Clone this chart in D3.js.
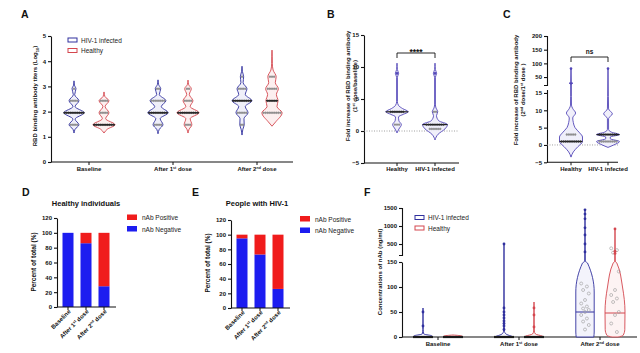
<!DOCTYPE html>
<html>
<head>
<meta charset="utf-8">
<script src="https://cdn.jsdelivr.net/npm/d3@7"></script>
<style>
  body { margin: 0; background: #fff; }
  svg { display: block; font-family: "Liberation Sans", Arial, sans-serif; }
</style>
</head>
<body>
<svg id="fig" width="640" height="353"></svg>
<script>
// ---------- data ----------
const doses = ["Baseline", "After 1st dose", "After 2nd dose"];
const cohorts = ["HIV-1 infected", "Healthy"];
const foldGroups = ["Healthy", "HIV-1 infected"];

// A: log10 RBD titers, violin profiles as [value, relative density]
const titerHIV = [
  [[1.15,0],[1.3,0.1],[1.477,0.45],[1.7,0.1],[1.954,0.92],[2.2,0.1],[2.431,0.45],[2.67,0.06],[2.908,0.18],[3.05,0.04],[3.22,0]],
  [[1.12,0],[1.3,0.12],[1.477,0.45],[1.72,0.2],[1.954,0.92],[2.2,0.3],[2.431,0.72],[2.68,0.12],[2.908,0.25],[3.08,0.05],[3.26,0]],
  [[1.07,0],[1.3,0.08],[1.477,0.2],[1.72,0.18],[1.954,0.55],[2.2,0.3],[2.431,0.9],[2.68,0.3],[2.908,0.45],[3.15,0.1],[3.386,0.15],[3.6,0.03],[3.8,0]]
];
const titerHealthy = [
  [[1.15,0],[1.3,0.3],[1.477,1.0],[1.72,0.15],[1.954,0.45],[2.2,0.1],[2.431,0.45],[2.6,0.08],[2.78,0]],
  [[1.15,0],[1.3,0.1],[1.477,0.35],[1.72,0.2],[1.954,1.0],[2.2,0.2],[2.431,0.45],[2.68,0.12],[2.908,0.3],[3.08,0.05],[3.25,0]],
  [[1.42,0],[1.6,0.35],[1.954,0.92],[2.2,0.45],[2.431,0.55],[2.68,0.4],[2.908,0.58],[3.15,0.3],[3.386,0.38],[3.65,0.1],[3.9,0.03],[4.2,0.02],[4.44,0]]
];
const titerMedHIV = [1.954, 1.954, 2.431];
const titerMedHealthy = [1.477, 1.954, 2.431];
// rows of points: [value, count]
const titerDotsHIV = [
  [[1.477,4],[1.954,10],[2.431,4],[2.908,1]],
  [[1.477,4],[1.954,9],[2.431,7],[2.908,2]],
  [[1.477,2],[1.954,5],[2.431,9],[2.908,4],[3.386,1]]
];
const titerDotsHealthy = [
  [[1.477,10],[1.954,4],[2.431,4]],
  [[1.477,3],[1.954,10],[2.431,4],[2.908,2]],
  [[1.954,9],[2.431,5],[2.908,5],[3.386,3]]
];

// B: fold increase 1st dose / baseline
const foldB = [
  [[-0.3,0],[0.3,0.15],[1,0.35],[1.6,0.15],[2.2,0.12],[2.6,0.5],[3,0.9],[3.5,0.45],[4,0.12],[4.6,0.03],[8.4,0.03],[9,0.13],[9.6,0.03],[10.6,0]],
  [[-1.4,0],[-0.5,0.25],[0.33,0.8],[1,1.0],[1.6,0.3],[2.4,0.12],[3,0.22],[3.6,0.08],[4.2,0.03],[8.4,0.03],[9,0.13],[9.6,0.03],[10.6,0]]
];
const foldMedB = [3, 1];
const foldDotsB = [ [[3,7],[1,3]], [[3,2],[1,9],[0.33,6]] ];
const foldPtsB = [[9], [9]];

// C: fold increase 2nd dose / 1st dose
const foldC = [
  [[-3.5,0],[-2,0.2],[-0.5,0.6],[1,1.0],[2.3,1.0],[3.5,0.75],[5,0.35],[6.5,0.2],[7.8,0.15],[9.2,0.4],[10.5,0.15],[11.5,0.04],[14,0.03],[24,0.03],[27,0.15],[32,0.03],[81,0]],
  [[-0.7,0],[0,0.5],[1,1.0],[1.8,0.2],[2.3,0.2],[3,1.0],[3.7,0.3],[4.5,0.05],[7.6,0.05],[9,0.38],[10.4,0.05],[14,0.03],[81,0]]
];
const foldMedC = [1, 3];
const foldDotsC = [ [[3,5],[1,10]], [[3,9],[1,9]] ];
const foldPtsC = [[81, 27], [81]];

// D / E: nAb positivity (%)
const healthyNeg = [100, 86, 28];
const healthyPos = [0, 14, 72];
const hivNeg = [95, 73, 26];
const hivPos = [5, 27, 74];

// F: nAb concentrations (ng/ml)
const nabHIV = [
  [[0,1.0],[3,0.8],[6,0.08],[15,0.02],[58,0]],
  [[0,1.0],[2,0.7],[6,0.2],[12,0.04],[30,0.02],[500,0]],
  [[0,0.88],[10,0.92],[90,0.92],[148,0.25],[155,0.03],[1450,0]]
];
const nabHealthy = [
  [[0,1.0],[2,0.9],[4,0]],
  [[0,1.0],[2,0.8],[6,0.15],[12,0.03],[70,0]],
  [[0,0.3],[3,0.8],[15,0.98],[50,1.0],[100,0.75],[148,0.18],[155,0.03],[920,0]]
];
const nabMedHIV = [0, 0, 50];
const nabMedHealthy = [0, 0, 48];
const nabPtsHIV = [[50,22],[500,58,50,44,38,32,27,22,15],[1450,1330,1200,950,750,500,280]];
const nabPtsHealthy = [[],[58,44,20],[920,300,240]];
const nabOpenHIV = [[],[],[107,101,94,87,74,67,61,57,54,50,44,37,31,24,15]];
const nabOpenHealthy = [[],[],[380,330,260,131,94,84,77,70,50,44,27,10]];

// ---------- helpers ----------
const svg = d3.select("#fig");
const BLUE = "#30309e", RED = "#d4464e", PURPLE = "#5246b8";
const BAR_BLUE = "#1d1df0", BAR_RED = "#f01c1c";
const INK = "#111";
const fmt = d3.format("d");

function styleAxis(g) {
  g.attr("font-family", null).attr("font-size", null);
  g.selectAll("text").attr("font-size", 6).attr("font-weight", "bold").attr("fill", INK);
  g.selectAll("path.domain, line").attr("stroke", INK).attr("stroke-width", 1.1);
}

// text with 1st / 2nd superscript
function rich(sel, str, size) {
  const m = str.match(/^(.*?)(\d)(st|nd)(.*)$/);
  if (!m) { sel.text(str); return; }
  sel.append("tspan").text(m[1] + m[2]);
  sel.append("tspan").attr("font-size", size * 0.6).attr("dy", -size * 0.4).text(m[3]);
  const rest = m[4];
  const t = sel.append("tspan").attr("font-size", size).attr("dy", size * 0.4);
  const m2 = rest.match(/^(.*?)(\d)(st|nd)(.*)$/);
  if (!m2) { t.text(rest); return; }
  t.text(m2[1] + m2[2]);
  sel.append("tspan").attr("font-size", size * 0.6).attr("dy", -size * 0.4).text(m2[3]);
  sel.append("tspan").attr("font-size", size).attr("dy", size * 0.4).text(m2[4]);
}

function yLabel(x, y, lines, size) {
  lines.forEach((ln, i) => {
    const t = svg.append("text")
      .attr("transform", `translate(${x + i * (size + 1)},${y}) rotate(-90)`)
      .attr("text-anchor", "middle").attr("font-size", size)
      .attr("font-weight", "bold").attr("fill", INK);
    if (typeof ln === "function") ln(t); else rich(t, ln, size);
  });
}

function panelLetter(x, y, s) {
  svg.append("text").attr("x", x).attr("y", y).attr("font-size", 10.5)
    .attr("font-weight", "bold").attr("fill", INK).text(s);
}

function violin(y, cx, prof, wMax, stroke, fill) {
  const w = d3.scaleLinear().domain([0, 1]).range([0, wMax]);
  const area = d3.area()
    .y(d => y(d[0]))
    .x0(d => cx - w(d[1]))
    .x1(d => cx + w(d[1]))
    .curve(d3.curveMonotoneY);
  svg.append("path").datum(prof).attr("d", area)
    .attr("fill", fill).attr("stroke", stroke)
    .attr("stroke-width", 0.9).attr("stroke-linejoin", "round");
  const dens = d3.scaleLinear().domain(prof.map(d => d[0])).range(prof.map(d => d[1])).clamp(true);
  return v => w(dens(v));
}

function dotRows(y, cx, rows, med) {
  rows.forEach(([v, n]) => {
    const isMed = Math.abs(v - med) < 1e-6;
    d3.range(n).forEach(i => {
      svg.append("circle")
        .attr("cx", cx + (i - (n - 1) / 2) * 2.1).attr("cy", y(v)).attr("r", 0.95)
        .attr("fill", isMed ? "#333" : "#9a9a9a").attr("stroke", isMed ? "#111" : "#5a5a5a")
        .attr("stroke-width", 0.3);
    });
  });
}

function medLine(y, cx, halfW, v, color, width) {
  svg.append("line").attr("x1", cx - halfW(v)).attr("x2", cx + halfW(v))
    .attr("y1", y(v)).attr("y2", y(v)).attr("stroke", color).attr("stroke-width", width);
}

function xBaseAxis(x0, x1, y, ticks) {
  svg.append("line").attr("x1", x0).attr("x2", x1).attr("y1", y).attr("y2", y)
    .attr("stroke", INK).attr("stroke-width", 1.1);
  ticks.forEach(t => svg.append("line").attr("x1", t).attr("x2", t).attr("y1", y).attr("y2", y + 3)
    .attr("stroke", INK).attr("stroke-width", 1));
}

function legendOutline(x, y, items) {
  items.forEach((it, i) => {
    svg.append("rect").attr("x", x).attr("y", y + i * 10.5 - 4).attr("width", 9).attr("height", 4)
      .attr("fill", "none").attr("stroke", it.color).attr("stroke-width", 1);
    svg.append("text").attr("x", x + 13).attr("y", y + i * 10.5 + 0.5).attr("font-size", 6.5)
      .attr("fill", "#222").text(it.name);
  });
}

function legendFilled(x, y, items) {
  items.forEach((it, i) => {
    svg.append("rect").attr("x", x).attr("y", y + i * 11.5 - 5).attr("width", 10).attr("height", 5.5)
      .attr("fill", it.color);
    svg.append("text").attr("x", x + 15).attr("y", y + i * 11.5 + 0.5).attr("font-size", 6.5)
      .attr("fill", "#222").text(it.name);
  });
}

function leftAxis(x, scale, ticks, outer) {
  svg.append("g").attr("transform", `translate(${x},0)`)
    .call(d3.axisLeft(scale).tickValues(ticks).tickFormat(fmt)
      .tickSize(3).tickSizeOuter(outer).tickPadding(2))
    .call(styleAxis);
}

// ---------- Panel A ----------
panelLetter(21, 18, "A");
const yA = d3.scaleLinear().domain([0, 5]).range([162, 36]);
const xA = d3.scalePoint().domain(doses).range([89, 257]);
const offA = d3.scalePoint().domain(cohorts).range([-15, 15]);
leftAxis(51, yA, [0,1,2,3,4,5], 0);
xBaseAxis(51, 293, 162, doses.map(d => xA(d)));
doses.forEach((d, i) => {
  [[cohorts[0], titerHIV, titerMedHIV, titerDotsHIV, BLUE, "#efeff9"],
   [cohorts[1], titerHealthy, titerMedHealthy, titerDotsHealthy, RED, "#fcefef"]]
  .forEach(([c, prof, med, dots, col, fill]) => {
    const cx = xA(d) + offA(c);
    const hw = violin(yA, cx, prof[i], 11, col, fill);
    medLine(yA, cx, hw, med[i], "#222", 1.2);
    dotRows(yA, cx, dots[i], med[i]);
  });
  const t = svg.append("text").attr("x", xA(d)).attr("y", 171).attr("text-anchor", "middle")
    .attr("font-size", 6).attr("font-weight", "bold").attr("fill", INK);
  rich(t, d, 6);
});
yLabel(37, 96, [t => {
  t.append("tspan").text("RBD binding antibody titers (Log");
  t.append("tspan").attr("font-size", 4).attr("dy", 1.5).text("10");
  t.append("tspan").attr("dy", -1.5).text(")");
}], 6);
legendOutline(68, 42, [{ name: cohorts[0], color: BLUE }, { name: cohorts[1], color: RED }]);

// ---------- Panel B ----------
panelLetter(327, 18, "B");
const yB = d3.scaleLinear().domain([-5, 15]).range([163, 35]);
const xB = d3.scalePoint().domain(foldGroups).range([397, 435]);
leftAxis(364, yB, [-5,0,5,10,15], 0);
xBaseAxis(364, 459, 163, foldGroups.map(g => xB(g)));
svg.append("line").attr("x1", 364).attr("x2", 459).attr("y1", yB(0)).attr("y2", yB(0))
  .attr("stroke", "#888").attr("stroke-width", 0.8).attr("stroke-dasharray", "1,1.5");
foldGroups.forEach((g, i) => {
  const cx = xB(g);
  const hw = violin(yB, cx, foldB[i], 12.5, PURPLE, "#f0effa");
  medLine(yB, cx, hw, foldMedB[i], "#222", 1.2);
  dotRows(yB, cx, foldDotsB[i], foldMedB[i]);
  foldPtsB[i].forEach(v => svg.append("circle").attr("cx", cx).attr("cy", yB(v)).attr("r", 1.3).attr("fill", PURPLE));
  svg.append("text").attr("x", cx).attr("y", 171).attr("text-anchor", "middle")
    .attr("font-size", 6).attr("font-weight", "bold").attr("fill", INK).text(g);
});
svg.append("path").attr("d", `M${xB(foldGroups[0])},58V53H${xB(foldGroups[1])}V58`)
  .attr("fill", "none").attr("stroke", INK).attr("stroke-width", 0.9);
svg.append("text").attr("x", 416).attr("y", 55).attr("text-anchor", "middle")
  .attr("font-size", 8.5).attr("font-weight", "bold").attr("fill", INK).text("****");
yLabel(350, 86, ["Fold increase of RBD binding antibody", "(1st dose/baseline)"], 6);

// ---------- Panel C ----------
panelLetter(503, 18, "C");
const yClow = d3.scaleLinear().domain([-5, 16]).range([162.3, 89.5]);
const yCup = d3.scaleLinear().domain([21, 200]).range([85, 36]);
const yC = d3.scaleLinear().domain([-5, 16, 21, 200]).range([162.3, 89.5, 85, 36]);
const xC = d3.scalePoint().domain(foldGroups).range([571, 608]);
leftAxis(547, yClow, [-5,0,5,10,15], 0);
leftAxis(547, yCup, [50,100,150,200], 3);
xBaseAxis(547, 618, 162.3, foldGroups.map(g => xC(g)));
svg.append("line").attr("x1", 547).attr("x2", 618).attr("y1", yC(0)).attr("y2", yC(0))
  .attr("stroke", "#888").attr("stroke-width", 0.8).attr("stroke-dasharray", "1,1.5");
foldGroups.forEach((g, i) => {
  const cx = xC(g);
  const hw = violin(yC, cx, foldC[i], 11.5, PURPLE, "#f0effa");
  medLine(yC, cx, hw, foldMedC[i], "#222", 1.2);
  dotRows(yC, cx, foldDotsC[i], foldMedC[i]);
  foldPtsC[i].forEach(v => svg.append("circle").attr("cx", cx).attr("cy", yC(v)).attr("r", 1.3).attr("fill", PURPLE));
  svg.append("text").attr("x", cx).attr("y", 171).attr("text-anchor", "middle")
    .attr("font-size", 6).attr("font-weight", "bold").attr("fill", INK).text(g);
});
svg.append("path").attr("d", `M${xC(foldGroups[0])},62V57H${xC(foldGroups[1])}V62`)
  .attr("fill", "none").attr("stroke", INK).attr("stroke-width", 0.9);
svg.append("text").attr("x", 589.5).attr("y", 54).attr("text-anchor", "middle")
  .attr("font-size", 6.5).attr("font-weight", "bold").attr("fill", INK).text("ns");
yLabel(518, 90, ["Fold increase of RBD binding antibody", "(2nd dose/1st dose )"], 6);

// ---------- Panels D & E ----------
function stackedPanel(title, titleX, axisX, xRange, yRange, neg, pos, legX, legY) {
  const y = d3.scaleLinear().domain([0, 120]).range(yRange);
  const x = d3.scalePoint().domain(doses).range(xRange);
  const rows = doses.map((d, i) => ({ dose: d, neg: neg[i], pos: pos[i] }));
  const stack = d3.stack().keys(["neg", "pos"])(rows);
  const colors = { neg: BAR_BLUE, pos: BAR_RED };
  stack.forEach(layer => {
    svg.append("g").selectAll("rect").data(layer).join("rect")
      .attr("x", d => x(d.data.dose) - 5.5).attr("width", 11)
      .attr("y", d => y(d[1])).attr("height", d => y(d[0]) - y(d[1]))
      .attr("fill", colors[layer.key]);
  });
  leftAxis(axisX, y, d3.range(0, 121, 20), 0);
  xBaseAxis(axisX, xRange[1] + 12, yRange[0], doses.map(d => x(d)));
  doses.forEach(d => {
    const t = svg.append("text")
      .attr("transform", `translate(${x(d) + 3},${yRange[0] + 5}) rotate(-45)`)
      .attr("text-anchor", "end").attr("font-size", 6).attr("font-weight", "bold").attr("fill", INK);
    rich(t, d, 6);
  });
  svg.append("text").attr("x", titleX).attr("y", 206).attr("text-anchor", "middle")
    .attr("font-size", 7.5).attr("font-weight", "bold").attr("fill", INK).text(title);
  legendFilled(legX, legY, [{ name: "nAb Positive", color: BAR_RED }, { name: "nAb Negative", color: BAR_BLUE }]);
}
panelLetter(22, 196, "D");
stackedPanel("Healthy individuals", 86, 57, [68, 104], [307, 218], healthyNeg, healthyPos, 127, 219.5);
yLabel(36, 262, ["Percent of total (%)"], 6.5);
panelLetter(192, 196, "E");
stackedPanel("People with HIV-1", 257, 231, [242, 278], [308, 220], hivNeg, hivPos, 300, 221);
yLabel(210, 263, ["Percent of total (%)"], 6.5);

// ---------- Panel F ----------
panelLetter(364, 196, "F");
const yFlow = d3.scaleLinear().domain([0, 150]).range([337, 262]);
const yFup = d3.scaleLinear().domain([195, 1500]).range([255, 208]);
const yF = d3.scaleLinear().domain([0, 150, 195, 1500]).range([337, 262, 255, 208]);
const xF = d3.scalePoint().domain(doses).range([438, 600]);
const offF = d3.scalePoint().domain(cohorts).range([-15, 15]);
leftAxis(402, yFlow, [0,50,100,150], 0);
leftAxis(402, yFup, [500,1000,1500], 3);
xBaseAxis(402, 637, 337, doses.map(d => xF(d)));
doses.forEach((d, i) => {
  [[cohorts[0], nabHIV, nabMedHIV, nabPtsHIV, nabOpenHIV, BLUE, "#f3f3fb"],
   [cohorts[1], nabHealthy, nabMedHealthy, nabPtsHealthy, nabOpenHealthy, RED, "#fdf3f3"]]
  .forEach(([c, prof, med, pts, open, col, fill]) => {
    const cx = xF(d) + offF(c);
    const hw = violin(yF, cx, prof[i], 10, col, fill);
    if (med[i] === 0) medLine(yF, cx, hw, 0, "#1a1a1a", 2.2);
    else medLine(yF, cx, hw, med[i], col, 1);
    open[i].forEach((v, k) => svg.append("circle")
      .attr("cx", cx + ((k * 3) % 5 - 2) * 1.9).attr("cy", yF(v)).attr("r", 1.5)
      .attr("fill", "none").attr("stroke", "#9a9a9a").attr("stroke-width", 0.6));
    pts[i].forEach(v => svg.append("circle").attr("cx", cx).attr("cy", yF(v)).attr("r", 1.4).attr("fill", col));
  });
  const t = svg.append("text").attr("x", xF(d)).attr("y", 346).attr("text-anchor", "middle")
    .attr("font-size", 6).attr("font-weight", "bold").attr("fill", INK);
  rich(t, d, 6);
});
yLabel(382, 272, ["Concentrations of nAb (ng/ml)"], 6);
legendOutline(415, 219.5, [{ name: cohorts[0], color: BLUE }, { name: cohorts[1], color: RED }]);
</script>
</body>
</html>
